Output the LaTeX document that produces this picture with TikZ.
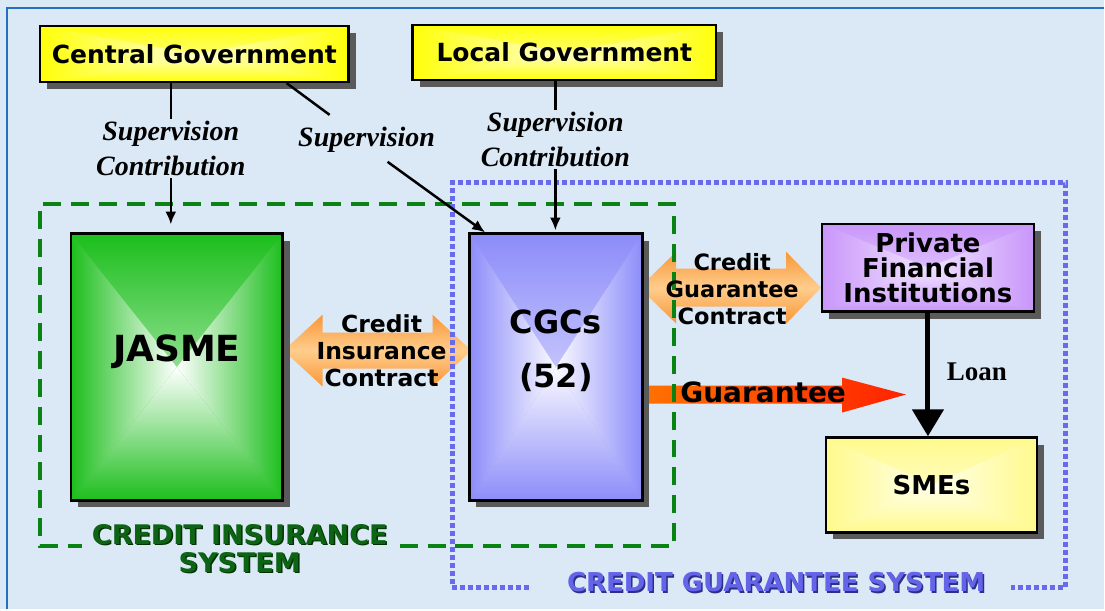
\documentclass[tikz,border=0pt]{standalone}
\usepackage{fontspec}
\usetikzlibrary{shadows,arrows.meta}
\setmainfont{DejaVu Sans}
\newfontfamily\serifface{Liberation Serif}

\definecolor{bg}{RGB}{219,232,246}
\definecolor{frameblue}{RGB}{38,112,190}
\definecolor{dashgreen}{RGB}{10,130,20}
\definecolor{dotblue}{RGB}{105,105,235}
\definecolor{sysgreen}{RGB}{12,100,20}
\definecolor{sysgreenD}{RGB}{0,50,0}
\definecolor{sysblue}{RGB}{100,100,232}
\definecolor{sysblueD}{RGB}{45,45,140}
\definecolor{shadowgray}{RGB}{90,90,90}
\definecolor{ylwE}{RGB}{255,255,10}
\definecolor{ylwC}{RGB}{255,255,205}
\definecolor{grnE}{RGB}{28,190,28}
\definecolor{grnC}{RGB}{255,255,255}
\definecolor{bluE}{RGB}{140,140,250}
\definecolor{bluC}{RGB}{250,250,255}
\definecolor{purE}{RGB}{200,150,250}
\definecolor{purC}{RGB}{242,228,255}
\definecolor{smeE}{RGB}{255,250,140}
\definecolor{smeC}{RGB}{255,255,235}
\definecolor{orE}{RGB}{248,150,55}
\definecolor{orC}{RGB}{255,205,140}
\definecolor{gOr}{RGB}{255,112,0}
\definecolor{gRed}{RGB}{255,35,0}

\tikzset{
  % box filled with a rectangular (edge to centre) gradient and a drop shadow
  gbox/.style 2 args={draw=black, line width=2.5pt, inner sep=0pt, fill=#1,
    drop shadow={shadow xshift=7pt, shadow yshift=-7pt, fill=shadowgray, opacity=1},
    path picture={
      \shade[top color=#1, bottom color=#2]
        (path picture bounding box.north west) -- (path picture bounding box.north east)
        -- (path picture bounding box.center) -- cycle;
      \shade[top color=#2, bottom color=#1]
        (path picture bounding box.south west) -- (path picture bounding box.south east)
        -- (path picture bounding box.center) -- cycle;
      \shade[left color=#1, right color=#2]
        (path picture bounding box.north west) -- (path picture bounding box.south west)
        -- (path picture bounding box.center) -- cycle;
      \shade[left color=#2, right color=#1]
        (path picture bounding box.north east) -- (path picture bounding box.south east)
        -- (path picture bounding box.center) -- cycle;
    }},
  bt/.style 2 args={font=\bfseries\fontsize{#1}{#2}\selectfont, align=center, inner sep=0pt},
  lab/.style={font=\serifface\bfseries\itshape\fontsize{28}{35}\selectfont, align=center, inner sep=2pt},
  conn/.style={line width=2.5pt, black},
  arr/.style={-{Latex[length=13pt,width=11pt]}},
  sysg/.style={font=\bfseries\fontsize{#1}{28}\selectfont, align=center, inner sep=0pt},
}

\begin{document}
\begin{tikzpicture}[x=1pt,y=-1pt]
  % page background and frame
  \fill[bg] (0,0) rectangle (1105,610);
  \draw[frameblue, line width=2.5pt] (7,610) -- (7,8) -- (1105,8);

  % two-headed contract arrows
  \shade[top color=orE, bottom color=orE, middle color=orC]
    (284,351) -- (323,315) -- (323,333) -- (433,333) -- (433,315) -- (472,351)
    -- (433,387) -- (433,369) -- (323,369) -- (323,387) -- cycle;
  \shade[top color=orE, bottom color=orE, middle color=orC]
    (640,288) -- (677,252) -- (677,269) -- (787,269) -- (787,252) -- (822,288)
    -- (787,324) -- (787,307) -- (677,307) -- (677,324) -- cycle;

  % guarantee arrow
  \shade[left color=gOr, right color=gRed]
    (648,386) -- (843,386) -- (843,378) -- (907,395) -- (843,413) -- (843,404)
    -- (648,404) -- cycle;

  % system boundaries
  \draw[dashgreen, line width=4pt, dash pattern=on 18pt off 10pt]
    (400,547) -- (675,547) -- (675,204) -- (40,204) -- (40,547) -- (82,547);
  \draw[dotblue, line width=5pt, dash pattern=on 5pt off 3pt]
    (530,588) -- (453,588) -- (453,183) -- (1067,183) -- (1067,588) -- (1012,588);

  % boxes
  \node[gbox={ylwE}{ylwC}, minimum width=309, minimum height=56, bt={25}{28}]
    (cg) at (194.5,54) {Central Government};
  \node[gbox={ylwE}{ylwC}, minimum width=304, minimum height=55, bt={25}{28}]
    (lg) at (565,52.5) {Local Government};
  \node[gbox={grnE}{grnC}, minimum width=212, minimum height=267] (jasme) at (177,367.5) {};
  \node[gbox={bluE}{bluC}, minimum width=173, minimum height=267] (cgc) at (556.5,367.5) {};
  \node[gbox={purE}{purC}, minimum width=212, minimum height=88, bt={26}{25}]
    (pfi) at (929,268) {Private\\Financial\\Institutions};
  \node[gbox={smeE}{smeC}, minimum width=211, minimum height=95, bt={26}{28}]
    (sme) at (932.5,485.5) {SMEs};

  \node[bt={36}{38}] (jasmeT) at (177,352) {JASME};
  \node[bt={32}{54}] (cgcT) at (556.5,351) {CGCs\\(52)};

  % arrow captions
  \node[bt={23.5}{27}] (ciaT) at (382,351) {Credit\\Insurance\\Contract};
  \node[bt={22.5}{27}] (cgaT) at (733,289) {Credit\\Guarantee\\Contract};
  \node[bt={28}{30}] (guarT) at (764,393) {Guarantee};

  % supervision links
  \node[lab] (sup1) at (171,149) {Supervision\\Contribution};
  \node[lab] (sup2) at (367,140) {Supervision};
  \node[lab] (sup3) at (556,140) {Supervision\\Contribution};

  \draw[conn] (cg.south -| sup1) -- (sup1.north);
  \draw[conn, arr, shorten >=8pt] (sup1.south) -- (jasme.north -| sup1);
  \draw[conn] ([xshift=92.5pt]cg.south) -- (330,115);
  \draw[conn, arr] (388,162) -- ([xshift=17pt]cgc.north west);
  \draw[conn] (lg.south -| sup3) -- (sup3.north);
  \draw[conn, arr, shorten >=2pt] (sup3.south) -- (cgc.north -| sup3);

  % loan
  \draw[line width=5pt, -{Triangle[width=31pt,length=27pt]}] (pfi.south) -- (pfi.south |- sme.north);
  \node[font=\serifface\bfseries\fontsize{27}{30}\selectfont, inner sep=0pt] (loanT) at (978,372) {Loan};

  % system titles
  \node[sysg=27, text=sysgreenD] at (241.5,550.5) {CREDIT INSURANCE\\SYSTEM};
  \node[sysg=27, text=sysgreen] (cisT) at (240,549) {CREDIT INSURANCE\\SYSTEM};
  \node[sysg=26, text=sysblueD] at (778.5,584.5) {CREDIT GUARANTEE SYSTEM};
  \node[sysg=26, text=sysblue] (cgsT) at (777,583) {CREDIT GUARANTEE SYSTEM};
\end{tikzpicture}
\end{document}
